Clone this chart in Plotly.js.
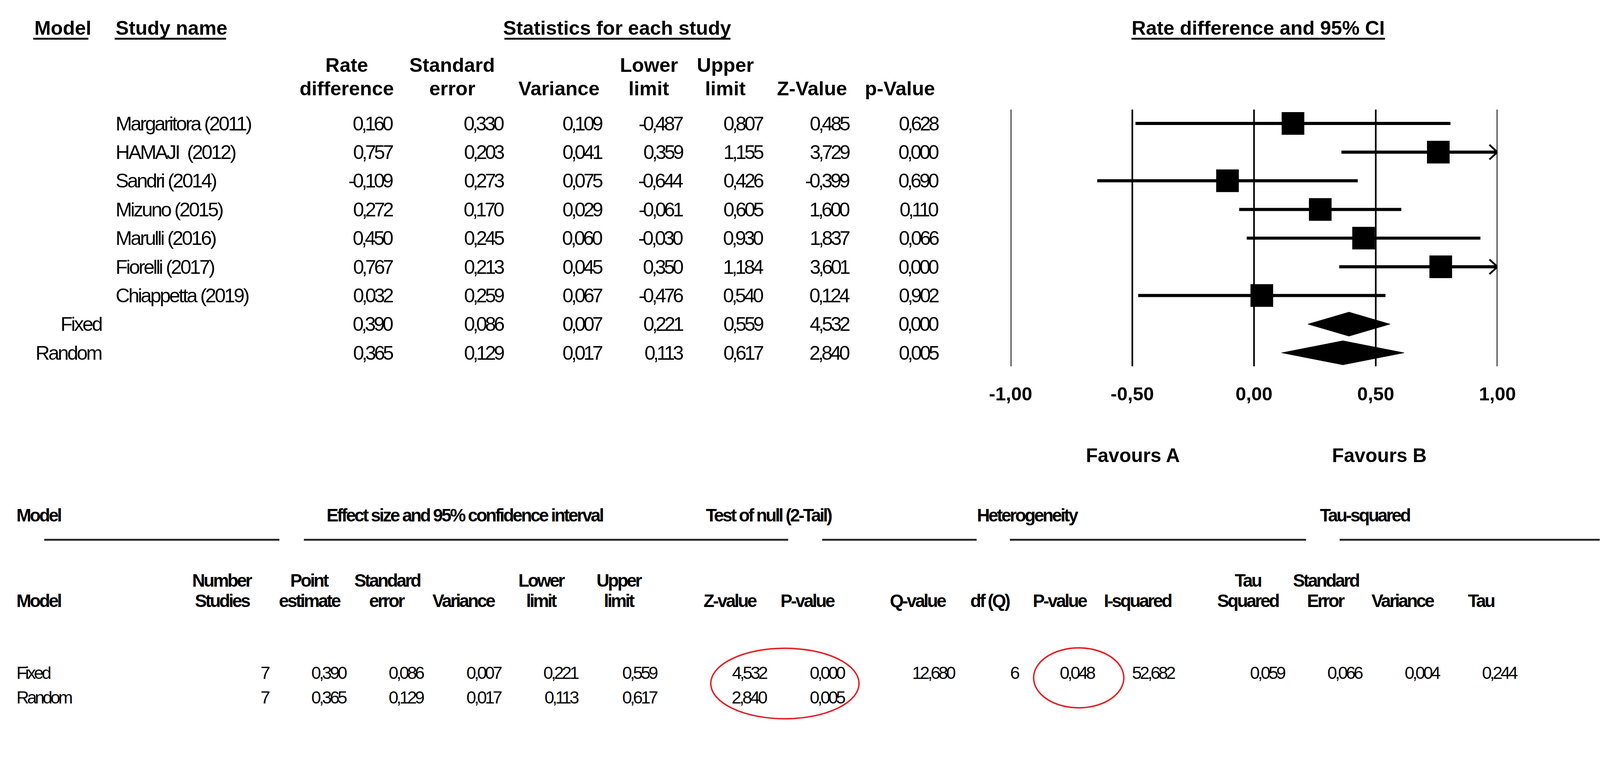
<!DOCTYPE html>
<html><head><meta charset="utf-8">
<script src="https://cdn.plot.ly/plotly-3.0.1.min.js"></script>
<style>html,body{margin:0;padding:0;background:#fff}#chart{width:4400px;height:2002px}</style>
</head><body><div id="chart"></div>
<script>
// ---------------- DATA ----------------
const studies = ['Margaritora (2011)', 'HAMAJI\u00a0\u00a0(2012)', 'Sandri (2014)', 'Mizuno (2015)', 'Marulli (2016)', 'Fiorelli (2017)', 'Chiappetta (2019)'];
const rateDiff = [0.160, 0.757, -0.109, 0.272, 0.450, 0.767, 0.032];
const stdErr   = [0.330, 0.203, 0.273, 0.170, 0.245, 0.213, 0.259];
const variance = [0.109, 0.041, 0.075, 0.029, 0.060, 0.045, 0.067];
const lowerLim = [-0.487, 0.359, -0.644, -0.061, -0.030, 0.350, -0.476];
const upperLim = [0.807, 1.155, 0.426, 0.605, 0.930, 1.184, 0.540];
const zValue   = [0.485, 3.729, -0.399, 1.600, 1.837, 3.601, 0.124];
const pValue   = [0.628, 0.000, 0.690, 0.110, 0.066, 0.000, 0.902];

const models      = ['Fixed', 'Random'];
const modelNum    = [7, 7];
const modelPoint  = [0.390, 0.365];
const modelSE     = [0.086, 0.129];
const modelVar    = [0.007, 0.017];
const modelLower  = [0.221, 0.113];
const modelUpper  = [0.559, 0.617];
const modelZ      = [4.532, 2.840];
const modelP      = [0.000, 0.005];

const hetQ = 12.680, hetDf = 6, hetP = 0.048, hetI2 = 52.682;
const tauSq = 0.059, tauSE = 0.066, tauVar = 0.004, tauVal = 0.244;

const axisTicks = [-1, -0.5, 0, 0.5, 1];
const axisTickText = ['-1,00', '-0,50', '0,00', '0,50', '1,00'];

const topHead1 = ['Rate', 'Standard', '', 'Lower', 'Upper', '', ''];
const topHead2 = ['difference', 'error', 'Variance', 'limit', 'limit', 'Z-Value', 'p-Value'];
const botGroups = ['Effect size and 95% confidence interval', 'Test of null (2-Tail)', 'Heterogeneity', 'Tau-squared'];
const botHead1 = ['Number', 'Point', 'Standard', '', 'Lower', 'Upper', '', '', '', '', '', '', 'Tau', 'Standard', '', ''];
const botHead2 = ['Studies', 'estimate', 'error', 'Variance', 'limit', 'limit', 'Z-value', 'P-value', 'Q-value', 'df (Q)', 'P-value', 'I-squared', 'Squared', 'Error', 'Variance', 'Tau'];

// ---------------- LAYOUT HELPERS ----------------
const W = 4400, H = 2002;
const S = 0.935;                       // global layout scale
const sz = n => n * S;
const px = x => x * S / W;
const py = y => 1 - y * S / H;
const ROW0 = 338, ROWSTEP = 78.5;
const PLOT_TOP = 300, PLOT_BOT = 1003, X0PIX = 2767, X1PIX = 4100;
const SANS = '"Liberation Sans", Arial, sans-serif';
const fmt = (v, d) => v.toFixed(d).replace('.', ',');
const f3 = v => fmt(v, 3);
const tight = (t, ls) => '<span style="letter-spacing:' + ls + 'px">' + t + '</span>';

const annotations = [];
const shapes = [];
function txt(text, x, y, opts) {
  opts = opts || {};
  annotations.push({
    text: opts.ls ? tight(text, opts.ls) : text, x: x, y: y,
    xref: opts.xref || 'paper', yref: opts.yref || 'paper',
    xanchor: opts.xanchor || 'center', yanchor: 'middle',
    showarrow: false,
    font: {family: SANS, size: sz(opts.size || 54), color: '#000', weight: opts.weight || 'normal'}
  });
}
function hline(x0, x1, y, w, color) {
  shapes.push({type: 'line', xref: 'paper', yref: 'paper', x0: px(x0), x1: px(x1), y0: py(y), y1: py(y),
    line: {color: color || '#000', width: sz(w)}});
}

// ---------------- TOP TABLE ----------------
const HEAD_Y = 76, UL_Y = 106;
txt('Model', px(92), py(HEAD_Y), {xanchor: 'left', weight: 'bold'});
hline(91, 242, UL_Y, 5);
txt('Study name', px(314), py(HEAD_Y), {xanchor: 'left', weight: 'bold'});
hline(314, 619, UL_Y, 5);
txt('Statistics for each study', px(1690), py(HEAD_Y), {weight: 'bold'});
hline(1381, 2000, UL_Y, 5);
txt('Rate difference and 95% CI', px(3445), py(HEAD_Y), {weight: 'bold'});
hline(3098, 3792, UL_Y, 5);

const topHeadCenters = [949, 1238, 1530, 1777, 1986, 2223, 2464];
topHead1.forEach((t, i) => { if (t) txt(t, px(topHeadCenters[i]), py(178), {weight: 'bold'}); });
topHead2.forEach((t, i) => { if (t) txt(t, px(topHeadCenters[i]), py(242), {weight: 'bold'}); });

const NUM_LS = -5.5, NAME_LS = -3.8;
const topColRight = [1078, 1382, 1651, 1873, 2092, 2328, 2572];
const studyCols = [rateDiff, stdErr, variance, lowerLim, upperLim, zValue, pValue];
studies.forEach((s, k) => {
  txt(s, px(314), k, {xanchor: 'left', yref: 'y', ls: NAME_LS});
  studyCols.forEach((col, c) => txt(f3(col[k]), px(topColRight[c]), k, {xanchor: 'right', yref: 'y', ls: NUM_LS}));
});
const modelCols = [modelPoint, modelSE, modelVar, modelLower, modelUpper, modelZ, modelP];
models.forEach((m, j) => {
  const k = studies.length + j;
  txt(m, px(280), k, {xanchor: 'right', yref: 'y', ls: NAME_LS});
  modelCols.forEach((col, c) => txt(f3(col[j]), px(topColRight[c]), k, {xanchor: 'right', yref: 'y', ls: NUM_LS}));
});

// forest plot vertical lines
axisTicks.forEach(t => shapes.push({type: 'line', xref: 'x', yref: 'paper', x0: t, x1: t,
  y0: py(PLOT_BOT), y1: py(PLOT_TOP), line: {color: '#000', width: sz(4.5)}}));

txt('Favours A', px(3102), py(1247), {weight: 'bold', size: 53});
txt('Favours B', px(3776), py(1247), {weight: 'bold', size: 53});

// ---------------- BOTTOM TABLE ----------------
const BF = 49, BV = 48, BH_LS = -3.8, BV_LS = -5;
txt('Model', px(43), py(1411), {xanchor: 'left', weight: 'bold', size: BF, ls: BH_LS});
const groupCenters = [1273, 2105, 2814, 3737];
botGroups.forEach((g, i) => txt(g, px(groupCenters[i]), py(1411), {weight: 'bold', size: BF, ls: BH_LS}));
[[121, 765], [832, 2158], [2251, 2674], [2765, 3576], [3668, 4380]].forEach(s => hline(s[0], s[1], 1478, 5, '#222'));

txt('Model', px(43), py(1645), {xanchor: 'left', weight: 'bold', size: BF, ls: BH_LS});
const botCenters = [609, 848, 1060, 1270, 1483, 1696, 1999, 2211, 2513, 2711, 2902, 3115, 3417, 3630, 3841, 4055];
botHead1.forEach((t, i) => { if (t) txt(t, px(botCenters[i]), py(1590), {weight: 'bold', size: BF, ls: BH_LS}); });
botHead2.forEach((t, i) => { if (t) txt(t, px(botCenters[i]), py(1645), {weight: 'bold', size: BF, ls: BH_LS}); });

const botRight = [740, 952, 1163, 1375, 1586, 1802, 2103, 2317, 2618, 2792, 3000, 3219, 3521, 3733, 3945, 4157];
const rowYs = [1842, 1910];
models.forEach((m, j) => {
  txt(m, px(43), py(rowYs[j]), {xanchor: 'left', size: BV, ls: BV_LS});
  let vals = [String(modelNum[j]), f3(modelPoint[j]), f3(modelSE[j]), f3(modelVar[j]), f3(modelLower[j]), f3(modelUpper[j]), f3(modelZ[j]), f3(modelP[j])];
  if (j === 0) vals = vals.concat([f3(hetQ), String(hetDf), f3(hetP), f3(hetI2), f3(tauSq), f3(tauSE), f3(tauVar), f3(tauVal)]);
  vals.forEach((v, c) => txt(v, px(botRight[c]), py(rowYs[j]), {xanchor: 'right', size: BV, ls: BV_LS}));
});

// red ellipses
const RED = 'rgb(228,30,36)';
shapes.push({type: 'circle', xref: 'paper', yref: 'paper', x0: px(1946), x1: px(2352), y0: py(1968), y1: py(1775), line: {color: RED, width: sz(4)}});
shapes.push({type: 'circle', xref: 'paper', yref: 'paper', x0: px(2830), x1: px(3077), y0: py(1938), y1: py(1774), line: {color: RED, width: sz(4)}});

// ---------------- FOREST TRACES ----------------
const pxPerUnit = (X1PIX - X0PIX) / 2;
const arrowDx = 22 / pxPerUnit, arrowDy = 20 / ROWSTEP, diamondH = 33 / ROWSTEP;
const ciX = [], ciY = [], arX = [], arY = [];
studies.forEach((s, k) => {
  ciX.push(lowerLim[k], Math.min(upperLim[k], 1), null); ciY.push(k, k, null);
  if (upperLim[k] > 1) { arX.push(1 - arrowDx, 1, 1 - arrowDx, null); arY.push(k - arrowDy, k, k + arrowDy, null); }
});
const traces = [
  {type: 'scatter', mode: 'lines', x: ciX, y: ciY, line: {color: '#000', width: sz(8.5)}, cliponaxis: false, hoverinfo: 'skip'},
  {type: 'scatter', mode: 'lines', x: arX, y: arY, line: {color: '#000', width: sz(5)}, cliponaxis: false, hoverinfo: 'skip'},
  {type: 'scatter', mode: 'markers', x: rateDiff, y: studies.map((s, k) => k),
    marker: {symbol: 'square', size: sz(62), color: '#000', line: {width: 0}}, cliponaxis: false}
];
models.forEach((m, j) => {
  const k = studies.length + j;
  traces.push({type: 'scatter', mode: 'lines', fill: 'toself', fillcolor: '#000',
    x: [modelLower[j], modelPoint[j], modelUpper[j], modelPoint[j], modelLower[j]],
    y: [k, k - diamondH, k, k + diamondH, k], line: {color: '#000', width: 1}, cliponaxis: false});
});

const layout = {
  width: W, height: H, margin: {l: 0, r: 0, t: 0, b: 0},
  paper_bgcolor: '#fff', plot_bgcolor: 'rgba(0,0,0,0)', showlegend: false,
  xaxis: {domain: [px(X0PIX), px(X1PIX)], range: [-1, 1], showgrid: false, zeroline: false, showline: false,
    tickvals: axisTicks, ticktext: axisTickText, ticks: 'outside', ticklen: sz(30), tickwidth: 1,
    tickcolor: 'rgba(0,0,0,0)',
    tickfont: {family: SANS, size: sz(52), color: '#000', weight: 'bold'}, fixedrange: true},
  yaxis: {domain: [py(PLOT_BOT), py(PLOT_TOP)], range: [(PLOT_BOT - ROW0) / ROWSTEP, (PLOT_TOP - ROW0) / ROWSTEP],
    visible: false, fixedrange: true},
  annotations: annotations, shapes: shapes
};
Plotly.newPlot('chart', traces, layout, {displayModeBar: false, staticPlot: true});
</script></body></html>
